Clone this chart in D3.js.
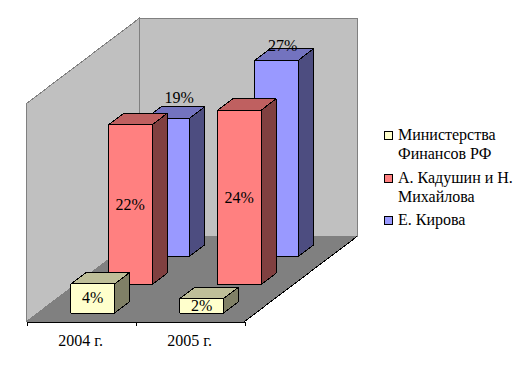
<!DOCTYPE html>
<html>
<head>
<meta charset="utf-8">
<script src="https://cdn.jsdelivr.net/npm/d3@7"></script>
<style>
    html, body { margin: 0; padding: 0; background: #fff; }
    text { font-family: "Liberation Serif", serif; font-size: 16px; fill: #000; }
    path, rect, line { shape-rendering: crispEdges; }
</style>
</head>
<body>
<div id="chart"></div>
<script>
// data, back row last in the legend
const categories = ["2004 г.", "2005 г."];
const seriesNames = ["Министерства Финансов РФ", "А. Кадушин и Н. Михайлова", "Е. Кирова"];
const ministry = [4, 2];
const kadushin = [22, 24];
const kirova = [19, 27];
const valueTicks = [0, 30];

const seriesValues = [ministry, kadushin, kirova];
const seriesColors = ["#FFFFCC", "#FF8080", "#9999FF"];
const legendLines = [["Министерства", "Финансов РФ"], ["А. Кадушин и Н.", "Михайлова"], ["Е. Кирова"]];

const width = 525, height = 372;
const svg = d3.select("#chart").append("svg")
    .attr("width", width)
    .attr("height", height)
    .style("display", "block");

// oblique projection: x along the category axis, z into the picture, y up
const originX = 26.5, originY = 321.5;
const depthDx = 112.5, depthDy = -85;

const x = d3.scaleBand().domain(categories).range([0.5, 218.5]).paddingInner(0.6).paddingOuter(0.3);
const z = d3.scaleBand().domain(seriesNames).range([0, 1]).paddingInner(0.6).paddingOuter(0.3);
const y = d3.scaleLinear().domain(valueTicks).range([0, 218]);

const project = (px, pz, py) => [originX + px + pz * depthDx, originY + pz * depthDy - py];
const line = d3.line();
const poly = pts => line(pts) + "Z";

// walls and floor
const wallTop = y(valueTicks[1]);
svg.append("path")
    .attr("d", poly([project(0, 0, 0), project(0, 0, wallTop), project(0, 1, wallTop), project(0, 1, 0)]))
    .attr("fill", "#C0C0C0").attr("stroke", "#808080");
svg.append("path")
    .attr("d", poly([project(0, 1, 0), project(0, 1, wallTop), project(218, 1, wallTop), project(218, 1, 0)]))
    .attr("fill", "#C0C0C0").attr("stroke", "#808080");
svg.append("path")
    .attr("d", poly([project(0, 0, 0), project(218, 0, 0), project(218, 1, 0), project(0, 1, 0)]))
    .attr("fill", "#808080").attr("stroke", "#808080");
svg.append("path")
    .attr("d", line([project(218, 0, 0), project(218, 1, 0)]))
    .attr("fill", "none").attr("stroke", "#000");

// bars, back row first so the front ones cover them
const shade = (c, k) => {
    let rgb = d3.rgb(c);
    return d3.rgb(rgb.r * k, rgb.g * k, rgb.b * k).formatHex();
};

for (let s = seriesNames.length - 1; s >= 0; s--) {
    categories.forEach((cat, i) => {
        let v = seriesValues[s][i];
        let x0 = x(cat), x1 = x0 + x.bandwidth();
        let z0 = z(seriesNames[s]), z1 = z0 + z.bandwidth();
        let h = y(v);
        let g = svg.append("g").attr("stroke", "#000").attr("stroke-width", 1).attr("stroke-linejoin", "round");

        g.append("path")
            .attr("d", poly([project(x0, z0, h), project(x1, z0, h), project(x1, z1, h), project(x0, z1, h)]))
            .attr("fill", shade(seriesColors[s], 0.75));
        g.append("path")
            .attr("d", poly([project(x1, z0, 0), project(x1, z0, h), project(x1, z1, h), project(x1, z1, 0)]))
            .attr("fill", shade(seriesColors[s], 0.5));
        g.append("path")
            .attr("d", poly([project(x0, z0, 0), project(x0, z0, h), project(x1, z0, h), project(x1, z0, 0)]))
            .attr("fill", seriesColors[s]);
    });
}

// data labels sit by hand in the original, so each series has its own nudges
const labelNudge = [
    [[0, 5], [0, 5]],
    [[0, 5], [0, 6]],
    [[11.5, -15], [6, -9]]
];
seriesNames.forEach((name, s) => {
    categories.forEach((cat, i) => {
        let v = seriesValues[s][i];
        let p = s === 2
            ? project(x(cat) + x.bandwidth() / 2, z(name), y(v))
            : project(x(cat) + x.bandwidth() / 2, z(name), y(v) / 2);
        svg.append("text")
            .attr("x", p[0] + labelNudge[s][i][0])
            .attr("y", p[1] + labelNudge[s][i][1])
            .attr("text-anchor", "middle")
            .text(v + "%");
    });
});

// category axis: ticks on the band edges, labels in the middle
const tickScale = d3.scaleLinear().domain([0, categories.length]).range([0, 218]);
const tickAxis = svg.append("g")
    .attr("transform", `translate(${originX},${originY})`)
    .call(d3.axisBottom(tickScale).tickValues([0, 1, 2]).tickSize(4).tickSizeOuter(0).tickFormat(""));
tickAxis.select(".domain").attr("stroke", "#000");
tickAxis.selectAll(".tick line").attr("stroke", "#000");

const labelAxis = svg.append("g")
    .attr("transform", `translate(${originX - 1},${originY})`)
    .call(d3.axisBottom(x).tickSize(0).tickPadding(13));
labelAxis.select(".domain").remove();
labelAxis.selectAll("text").style("font-family", '"Liberation Serif", serif').style("font-size", "16px").attr("fill", "#000");

// legend
const legendY = [140, 183, 225];
const legend = svg.append("g");
legendLines.forEach((lines, s) => {
    legend.append("rect")
        .attr("x", 384.5).attr("y", legendY[s] - 8.5)
        .attr("width", 8).attr("height", 8)
        .attr("fill", seriesColors[s]).attr("stroke", "#000");
    lines.forEach((t, j) => {
        legend.append("text")
            .attr("x", 398).attr("y", legendY[s] + j * 18.5)
            .text(t);
    });
});
</script>
</body>
</html>
